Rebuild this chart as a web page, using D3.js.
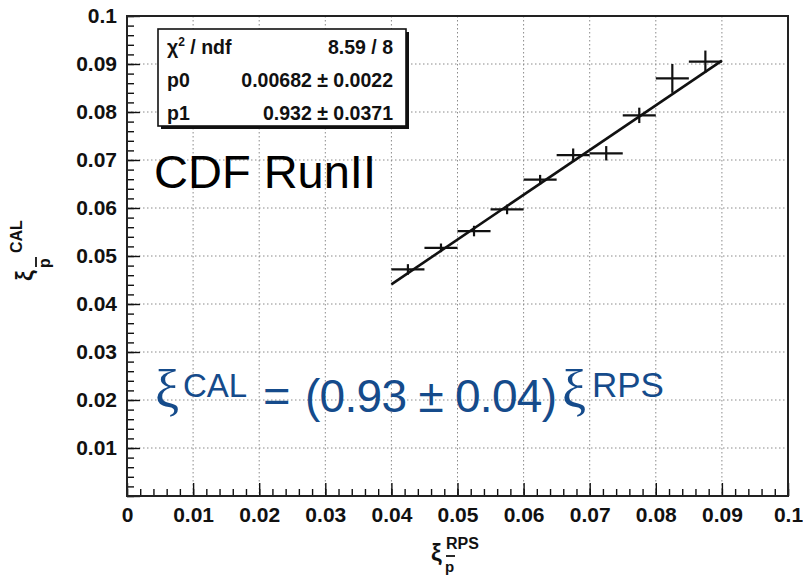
<!DOCTYPE html>
<html>
<head>
<meta charset="utf-8">
<script src="https://cdn.jsdelivr.net/npm/d3@7/dist/d3.min.js"></script>
<style>
  body { margin: 0; background: #fff; }
  text { font-family: "Liberation Sans", Arial, Helvetica, sans-serif; }
</style>
</head>
<body>
<svg id="chart" width="803" height="577"></svg>
<script>
// ξ(RPS) bin centres and half-widths
const xiRPS    = [0.0425, 0.0475, 0.0525, 0.0575, 0.0625, 0.0675, 0.0725, 0.0775, 0.0825, 0.0875];
const xiRPSErr = [0.0025, 0.0025, 0.0025, 0.0025, 0.0025, 0.0025, 0.0025, 0.0025, 0.0025, 0.0025];
// mean ξ(CAL) per bin and its uncertainty
const xiCAL    = [0.0472, 0.0517, 0.0552, 0.0597, 0.0659, 0.0710, 0.0714, 0.0793, 0.0870, 0.0905];
const xiCALErr = [0.0011, 0.0009, 0.0011, 0.0010, 0.0010, 0.0014, 0.0015, 0.0016, 0.0030, 0.0023];

// linear fit p0 + p1·x
const fitP0 = 0.00682;
const fitP1 = 0.932;
const fitRange = [0.04, 0.09];

// axis ticks
const majorTicks  = [0, 0.01, 0.02, 0.03, 0.04, 0.05, 0.06, 0.07, 0.08, 0.09, 0.1];
const xTickLabels = ["0", "0.01", "0.02", "0.03", "0.04", "0.05", "0.06", "0.07", "0.08", "0.09", "0.1"];
const yTickLabels = ["", "0.01", "0.02", "0.03", "0.04", "0.05", "0.06", "0.07", "0.08", "0.09", "0.1"];

// fit statistics box
const statNames  = ["χ", "p0", "p1"];
const statValues = ["8.59 / 8", "0.00682 ± 0.0022", "0.932 ± 0.0371"];

const svg = d3.select("#chart");
const frame = { left: 127, right: 788, top: 16, bottom: 496 };

const x = d3.scaleLinear().domain([0, 0.1]).range([frame.left, frame.right]);
const y = d3.scaleLinear().domain([0, 0.1]).range([frame.bottom, frame.top]);

const minorTicks = d3.range(0, 0.1001, 0.002).map(v => +v.toFixed(4));

// dotted grid at major ticks
const grid = svg.append("g").attr("stroke", "#8a8a8a").attr("stroke-width", 1)
  .attr("stroke-dasharray", "1.5,2.5");
grid.selectAll("line.gx").data(majorTicks.slice(1, -1)).join("line")
  .attr("x1", d => x(d)).attr("x2", d => x(d))
  .attr("y1", frame.top).attr("y2", frame.bottom);
grid.selectAll("line.gy").data(majorTicks.slice(1, -1)).join("line")
  .attr("y1", d => y(d)).attr("y2", d => y(d))
  .attr("x1", frame.left).attr("x2", frame.right);

// axes: ticks point into the frame
function styleAxis(g) {
  g.select(".domain").remove();
  g.selectAll(".tick line").attr("stroke", "#111").attr("stroke-width", 1.4);
  g.selectAll(".tick text").attr("fill", "#111")
    .attr("font-size", 21).attr("font-weight", "bold");
}

svg.append("g").attr("transform", `translate(0,${frame.bottom})`)
  .call(d3.axisBottom(x).tickValues(minorTicks).tickSize(-7).tickFormat(""))
  .call(styleAxis);
svg.append("g").attr("transform", `translate(0,${frame.bottom})`)
  .call(d3.axisBottom(x).tickValues(majorTicks).tickSize(-13).tickPadding(11)
    .tickFormat((d, i) => xTickLabels[i]))
  .call(styleAxis);

svg.append("g").attr("transform", `translate(${frame.left},0)`)
  .call(d3.axisLeft(y).tickValues(minorTicks).tickSize(-7).tickFormat(""))
  .call(styleAxis);
svg.append("g").attr("transform", `translate(${frame.left},0)`)
  .call(d3.axisLeft(y).tickValues(majorTicks).tickSize(-13).tickPadding(10)
    .tickFormat((d, i) => yTickLabels[i]))
  .call(styleAxis);

// frame
svg.append("rect")
  .attr("x", frame.left).attr("y", frame.top)
  .attr("width", frame.right - frame.left).attr("height", frame.bottom - frame.top)
  .attr("fill", "none").attr("stroke", "#222").attr("stroke-width", 2);

// fit line
const fitLine = d3.line().x(d => x(d)).y(d => y(fitP0 + fitP1 * d));
svg.append("path").datum(fitRange)
  .attr("d", fitLine).attr("fill", "none")
  .attr("stroke", "#111").attr("stroke-width", 2.6);

// error-bar crosses
const pts = xiRPS.map((v, i) => ({ x: v, ex: xiRPSErr[i], y: xiCAL[i], ey: xiCALErr[i] }));
const bars = svg.append("g").attr("stroke", "#111").attr("stroke-width", 2.2);
bars.selectAll("line.h").data(pts).join("line")
  .attr("x1", d => x(d.x - d.ex)).attr("x2", d => x(d.x + d.ex))
  .attr("y1", d => y(d.y)).attr("y2", d => y(d.y));
bars.selectAll("line.v").data(pts).join("line")
  .attr("x1", d => x(d.x)).attr("x2", d => x(d.x))
  .attr("y1", d => y(d.y - d.ey)).attr("y2", d => y(d.y + d.ey));

// statistics box with shadow
const box = { x: 158, y: 29, w: 248, h: 97 };
svg.append("rect").attr("x", box.x + 3).attr("y", box.y + 3)
  .attr("width", box.w).attr("height", box.h).attr("fill", "#111");
svg.append("rect").attr("x", box.x).attr("y", box.y)
  .attr("width", box.w).attr("height", box.h)
  .attr("fill", "#fff").attr("stroke", "#111").attr("stroke-width", 1.6);

const rowBase = [54, 87, 120];
statNames.forEach((name, i) => {
  const t = svg.append("text").attr("x", 167).attr("y", rowBase[i])
    .attr("font-size", 19.5).attr("font-weight", "bold").attr("fill", "#111");
  if (i === 0) {
    t.append("tspan").text(name);
    t.append("tspan").attr("font-size", 12).attr("dy", -8).text("2");
    t.append("tspan").attr("dy", 8).text(" / ndf");
  } else {
    t.text(name);
  }
  svg.append("text").attr("x", 393).attr("y", rowBase[i])
    .attr("text-anchor", "end")
    .attr("font-size", 19.5).attr("font-weight", "bold").attr("fill", "#111")
    .text(statValues[i]);
});

// experiment label
svg.append("text").attr("x", 154).attr("y", 188)
  .attr("font-size", 47).attr("fill", "#000").text("CDF RunII");

// fitted relation
const blue = "#154b8b";
const serif = "'Liberation Serif', 'DejaVu Serif', serif";
const eq = svg.append("g").attr("fill", blue);
eq.append("text").attr("x", 155).attr("y", 408).attr("font-size", 54)
  .style("font-family", serif).text("ξ");
eq.append("text").attr("x", 183).attr("y", 397).attr("font-size", 33).text("CAL");
eq.append("text").attr("x", 263).attr("y", 412).attr("font-size", 47).text("=");
eq.append("text").attr("x", 305).attr("y", 412).attr("font-size", 46)
  .attr("textLength", 252).attr("lengthAdjust", "spacing").text("(0.93 ± 0.04)");
eq.append("text").attr("x", 562).attr("y", 408).attr("font-size", 54)
  .style("font-family", serif).text("ξ");
eq.append("text").attr("x", 592).attr("y", 397).attr("font-size", 35).text("RPS");

// axis titles
const xt = svg.append("g").attr("fill", "#111").attr("font-weight", "bold");
xt.append("text").attr("x", 431).attr("y", 561).attr("font-size", 24).text("ξ");
xt.append("text").attr("x", 446).attr("y", 549).attr("font-size", 16).text("RPS");
xt.append("text").attr("x", 445).attr("y", 572).attr("font-size", 15).text("p");
xt.append("line").attr("x1", 446).attr("x2", 455).attr("y1", 556).attr("y2", 556)
  .attr("stroke", "#111").attr("stroke-width", 1.8);

const yt = svg.append("g").attr("fill", "#111").attr("font-weight", "bold")
  .attr("transform", "translate(33,281) rotate(-90)");
yt.append("text").attr("x", 0).attr("y", 0).attr("font-size", 24).text("ξ");
yt.append("text").attr("x", 28).attr("y", -11).attr("font-size", 16).text("CAL");
yt.append("text").attr("x", 13).attr("y", 17).attr("font-size", 16).text("p");
yt.append("line").attr("x1", 14).attr("x2", 24).attr("y1", 3).attr("y2", 3)
  .attr("stroke", "#111").attr("stroke-width", 1.8);
</script>
</body>
</html>
